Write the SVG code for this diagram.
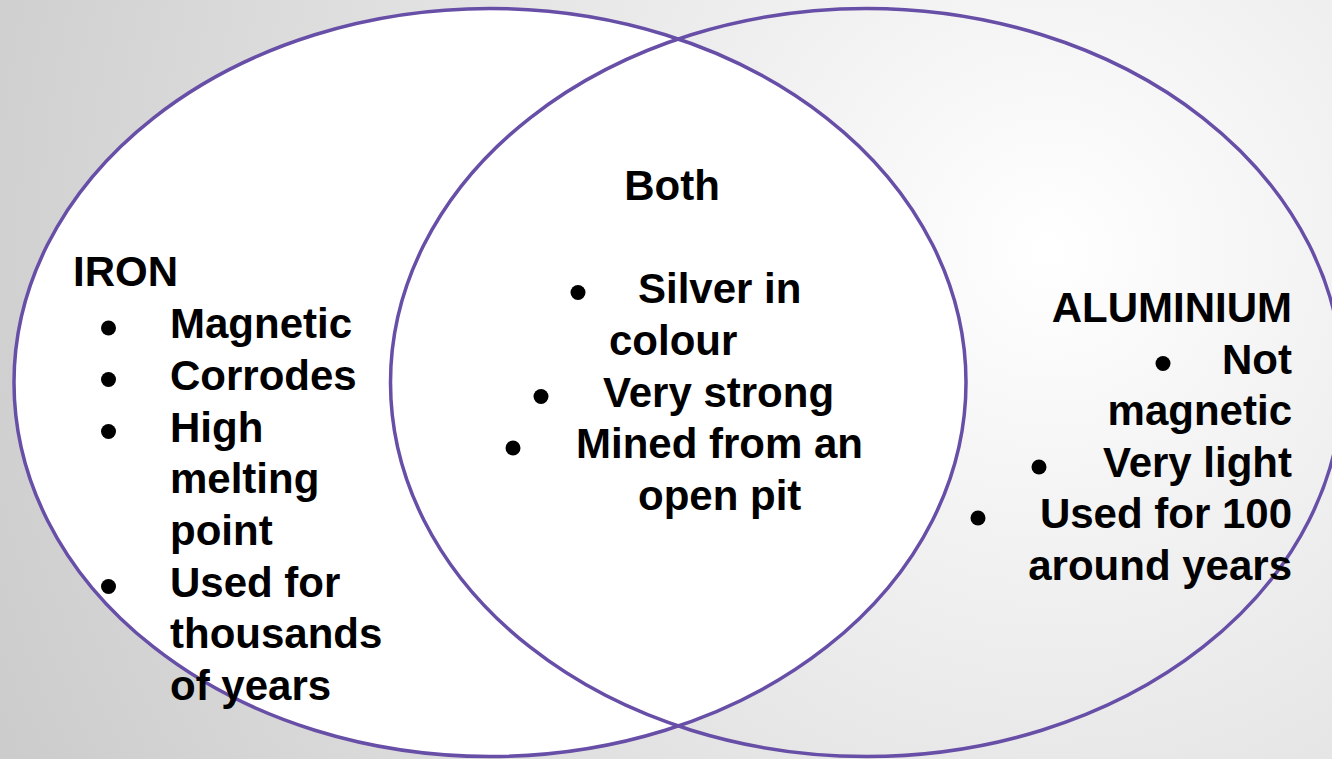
<svg xmlns="http://www.w3.org/2000/svg" width="1332" height="759" viewBox="0 0 1332 759">
<defs>
<radialGradient id="bg" gradientUnits="userSpaceOnUse" cx="1050" cy="250" r="1150">
<stop offset="0" stop-color="#ffffff"/>
<stop offset="1" stop-color="#cccccc"/>
</radialGradient>
<style>
.ring{stroke:#674ea7;stroke-width:3.5;}
.t{font-family:"Liberation Sans",Arial,sans-serif;font-weight:bold;font-size:42px;fill:#000;}
.r{text-anchor:end;}
.b{fill:#000;}
</style>
</defs>
<rect x="0" y="0" width="1332" height="759" fill="url(#bg)"/>
<g id="iron">
<ellipse class="ring" cx="490" cy="382.5" rx="476" ry="374" fill="#ffffff"/>
<text class="t" x="73" y="286">IRON</text>
<circle class="b" cx="108.5" cy="328" r="7.5"/>
<text class="t" x="170" y="338">Magnetic</text>
<circle class="b" cx="108.5" cy="379.5" r="7.5"/>
<text class="t" x="170" y="390">Corrodes</text>
<circle class="b" cx="108.5" cy="431.5" r="7.5"/>
<text class="t" x="170" y="442">High</text>
<text class="t" x="170" y="493">melting</text>
<text class="t" x="170" y="545">point</text>
<circle class="b" cx="108.5" cy="586.5" r="7.5"/>
<text class="t" x="170" y="597">Used for</text>
<text class="t" x="170" y="648">thousands</text>
<text class="t" x="170" y="700">of years</text>
</g>
<g id="aluminium">
<ellipse class="ring" cx="866.5" cy="382.5" rx="476" ry="374" fill="none"/>
<text class="t r" x="1292" y="322">ALUMINIUM</text>
<circle class="b" cx="1163" cy="363.5" r="7.5"/>
<text class="t r" x="1292" y="374">Not</text>
<text class="t r" x="1292" y="425">magnetic</text>
<circle class="b" cx="1039" cy="467" r="7.5"/>
<text class="t r" x="1292" y="477">Very light</text>
<circle class="b" cx="978" cy="518" r="7.5"/>
<text class="t r" x="1292" y="528">Used for 100</text>
<text class="t r" x="1292" y="580">around years</text>
</g>
<g id="both">
<text class="t" x="672" y="200" text-anchor="middle">Both</text>
<circle class="b" cx="578" cy="292.5" r="7.5"/>
<text class="t" x="638" y="303">Silver in</text>
<text class="t" x="609" y="355">colour</text>
<circle class="b" cx="541" cy="396.5" r="7.5"/>
<text class="t" x="603" y="407">Very strong</text>
<circle class="b" cx="513" cy="448" r="7.5"/>
<text class="t" x="576" y="458">Mined from an</text>
<text class="t" x="638" y="510">open pit</text>
</g>
</svg>
